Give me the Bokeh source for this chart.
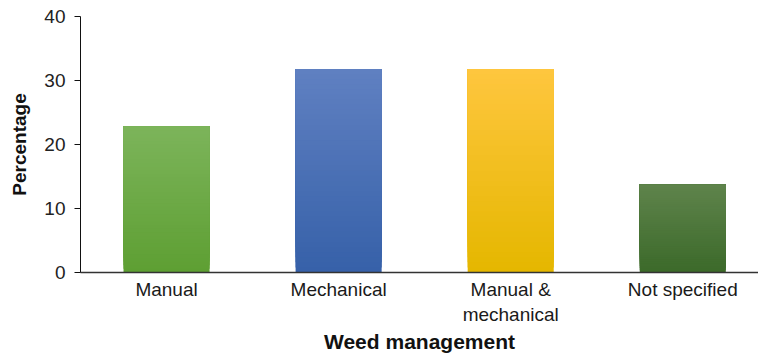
from bokeh.plotting import figure
from bokeh.models import Range1d, FixedTicker, ColumnDataSource
from bokeh.embed import file_html
from bokeh.resources import INLINE

categories = ["Manual", "Mechanical", "Manual &\nmechanical", "Not specified"]
values = [22.8, 31.8, 31.8, 13.7]
top_colors = ["#7cb45a", "#5f80c1", "#fec63e", "#5e834b"]
bottom_colors = ["#5e9f33", "#3761a9", "#e5b700", "#3c6a2a"]
y_ticks = [0, 10, 20, 30, 40]

def hex_to_rgb(h):
    h = h.lstrip("#")
    return tuple(int(h[i:i + 2], 16) for i in (0, 2, 4))

def mix(c1, c2, t):
    a, b = hex_to_rgb(c1), hex_to_rgb(c2)
    return "#%02x%02x%02x" % tuple(int(round(a[k] + (b[k] - a[k]) * t)) for k in range(3))

N = 40
xs, bots, tops, cols = [], [], [], []
for j in range(N):
    for i, v in enumerate(values):
        xs.append(i)
        bots.append(v * j / N)
        tops.append(v)
        cols.append(mix(bottom_colors[i], top_colors[i], j / (N - 1)))

src = ColumnDataSource(dict(x=xs, bottom=bots, top=tops, color=cols))

p = figure(width=758, height=356, output_backend="svg", toolbar_location=None,
           x_range=Range1d(-0.5, 3.44), y_range=Range1d(0, 40),
           min_border_left=80, min_border_right=0, min_border_top=16, min_border_bottom=84)
p.vbar(x="x", bottom="bottom", top="top", width=0.5, fill_color="color",
       line_color=None, source=src)

p.grid.visible = False
p.outline_line_color = None
p.background_fill_color = "white"
p.border_fill_color = "white"

p.yaxis.ticker = FixedTicker(ticks=y_ticks)
p.yaxis.minor_tick_line_color = None
p.yaxis.major_tick_out = 6
p.yaxis.major_tick_in = 0
p.yaxis.axis_line_color = "#111111"
p.yaxis.major_tick_line_color = "#111111"
p.yaxis.major_label_text_font = "Liberation Sans"
p.yaxis.major_label_text_font_size = "19px"
p.yaxis.major_label_text_color = "#222222"
p.yaxis.major_label_standoff = 9
p.yaxis.axis_label = "Percentage"
p.yaxis.axis_label_text_font = "Liberation Sans"
p.yaxis.axis_label_text_font_size = "19px"
p.yaxis.axis_label_text_font_style = "bold"
p.yaxis.axis_label_text_color = "#111111"
p.yaxis.axis_label_standoff = 11

p.xaxis.ticker = FixedTicker(ticks=list(range(len(categories))))
p.xaxis.major_label_overrides = {i: c for i, c in enumerate(categories)}
p.xaxis.major_tick_line_color = None
p.xaxis.minor_tick_line_color = None
p.xaxis.axis_line_color = "#333333"
p.xaxis.axis_line_width = 1.5
p.xaxis.major_label_text_font = "Liberation Sans"
p.xaxis.major_label_text_font_size = "19px"
p.xaxis.major_label_text_color = "#1a1a1a"
p.xaxis.major_label_text_line_height = 1.2
p.xaxis.major_label_standoff = 0
p.xaxis.axis_label = "Weed management"
p.xaxis.axis_label_text_font = "Liberation Sans"
p.xaxis.axis_label_text_font_size = "21px"
p.xaxis.axis_label_text_font_style = "bold"
p.xaxis.axis_label_text_color = "#111111"
p.xaxis.axis_label_standoff = 2

open("out.html", "w").write(file_html(p, INLINE))
